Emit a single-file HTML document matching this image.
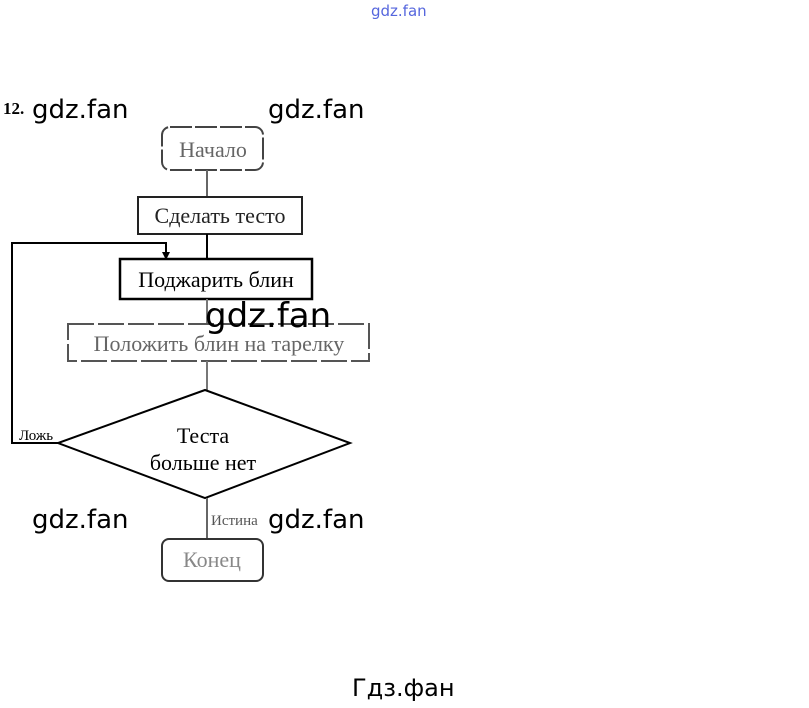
<!DOCTYPE html>
<html><head><meta charset="utf-8"><style>
body{margin:0;background:#fff;width:809px;height:708px;overflow:hidden;position:relative}
.w{position:absolute;font-family:"DejaVu Sans",sans-serif;color:#000;font-size:26px}
</style></head><body>
<svg width="809" height="708" style="position:absolute;left:0;top:0" font-family="Liberation Serif, serif">
<g fill="none" stroke="#000" stroke-width="2">
<rect x="162" y="127" width="101" height="43" rx="8" stroke="#444" stroke-dasharray="22 3"/>
<line x1="207" y1="170" x2="207" y2="197" stroke="#666"/>
<rect x="138" y="197" width="164" height="37" stroke="#222"/>
<line x1="207" y1="234" x2="207" y2="259"/>
<rect x="120" y="259" width="192" height="40" stroke-width="2.5"/>
<line x1="207" y1="299" x2="207" y2="324" stroke="#777"/>
<rect x="68" y="324" width="301" height="37" stroke="#555" stroke-dasharray="26 4"/>
<line x1="207" y1="361" x2="207" y2="390" stroke="#777"/>
<polygon points="205,390 350,443 205,498 58,443"/>
<polyline points="58,443 12,443 12,243 166,243 166,253"/>
<line x1="207" y1="498" x2="207" y2="539" stroke="#666"/>
<rect x="162" y="539" width="101" height="42" rx="7" stroke="#333"/>
</g>
<polygon points="162,252 170,252 166,260" fill="#000"/>
<text x="3" y="114" font-size="17" font-weight="bold">12.</text>
<text x="213" y="157" font-size="22" text-anchor="middle" fill="#666">Начало</text>
<text x="220" y="223" font-size="22" text-anchor="middle" fill="#222">Сделать тесто</text>
<text x="216" y="287" font-size="22" text-anchor="middle">Поджарить блин</text>
<text x="219" y="351" font-size="22" text-anchor="middle" fill="#666">Положить блин на тарелку</text>
<text x="203" y="443" font-size="22" text-anchor="middle">Теста</text>
<text x="203" y="470" font-size="22" text-anchor="middle">больше нет</text>
<text x="19" y="440" font-size="15">Ложь</text>
<text x="211" y="525" font-size="15" fill="#555">Истина</text>
<text x="212" y="567" font-size="22" text-anchor="middle" fill="#888">Конец</text>
</svg>
<div class="w" style="left:371px;top:2px;font-size:15px;color:#5566dd">gdz.fan</div>
<div class="w" style="left:32px;top:95px">gdz.fan</div>
<div class="w" style="left:268px;top:95px">gdz.fan</div>
<div class="w" style="left:205px;top:296px;font-size:34px">gdz.fan</div>
<div class="w" style="left:32px;top:505px">gdz.fan</div>
<div class="w" style="left:268px;top:505px">gdz.fan</div>
<div class="w" style="left:352px;top:674px;font-size:24px">Гдз.фан</div>
</body></html>
